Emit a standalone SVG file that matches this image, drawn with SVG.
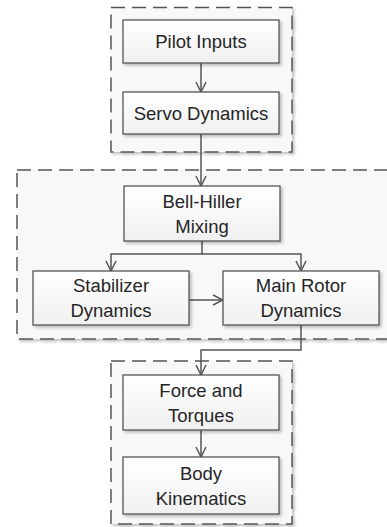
<svg xmlns="http://www.w3.org/2000/svg" width="387" height="527" viewBox="0 0 387 527">
<defs>
<linearGradient id="g" x1="0" y1="0" x2="0" y2="1"><stop offset="0" stop-color="#ffffff"/><stop offset="1" stop-color="#f0f0f0"/></linearGradient>
<filter id="sh" x="-10%" y="-10%" width="130%" height="130%"><feGaussianBlur in="SourceAlpha" stdDeviation="1.5"/><feOffset dx="2" dy="2"/><feComponentTransfer><feFuncA type="linear" slope="0.25"/></feComponentTransfer><feMerge><feMergeNode/><feMergeNode in="SourceGraphic"/></feMerge></filter>
<marker id="ah" viewBox="0 0 12 12" refX="11" refY="6" markerWidth="12" markerHeight="12" markerUnits="userSpaceOnUse" orient="auto"><path d="M1,1 L11,6 L1,11" fill="none" stroke="#555" stroke-width="1.5"/></marker>
</defs>
<style>
.grp{fill:#f8f8f8;stroke:#555;stroke-width:1.5;stroke-dasharray:14 7}
.box{fill:url(#g);stroke:#555;stroke-width:1.3}
.t{font-family:"Liberation Sans",Arial,sans-serif;font-size:18.5px;fill:#262626;text-anchor:middle}
.c{fill:none;stroke:#555;stroke-width:1.5}
</style>
<g id="groups">
<rect class="grp" x="111" y="7.5" width="181" height="144.5" filter="url(#sh)"/>
<rect class="grp" x="17" y="170" width="375" height="169" filter="url(#sh)"/>
<rect class="grp" x="111" y="361" width="181" height="163" filter="url(#sh)"/>
</g>
<g id="connectors">
<path class="c" d="M201,63 V92" marker-end="url(#ah)"/>
<path class="c" d="M201,134 V186" marker-end="url(#ah)"/>
<path class="c" d="M202,241 V254 H111 V271" marker-end="url(#ah)"/>
<path class="c" d="M202,254 H301 V271" marker-end="url(#ah)"/>
<path class="c" d="M189,300 H223" marker-end="url(#ah)"/>
<path class="c" d="M301,325 V350 H201 V375" marker-end="url(#ah)"/>
<path class="c" d="M201,430 V457" marker-end="url(#ah)"/>
</g>
<g id="pilot"><rect class="box" x="123" y="20" width="156" height="43" filter="url(#sh)"/><text class="t" x="201" y="48">Pilot Inputs</text></g>
<g id="servo"><rect class="box" x="123" y="92" width="156" height="42" filter="url(#sh)"/><text class="t" x="201" y="119.5">Servo Dynamics</text></g>
<g id="bellhiller"><rect class="box" x="124" y="186" width="156" height="55" filter="url(#sh)"/><text class="t" x="202" y="207.5">Bell-Hiller</text><text class="t" x="202" y="232.5">Mixing</text></g>
<g id="stabilizer"><rect class="box" x="33" y="271" width="156" height="54" filter="url(#sh)"/><text class="t" x="111" y="292">Stabilizer</text><text class="t" x="111" y="317">Dynamics</text></g>
<g id="mainrotor"><rect class="box" x="223" y="271" width="156" height="54" filter="url(#sh)"/><text class="t" x="301" y="292">Main Rotor</text><text class="t" x="301" y="317">Dynamics</text></g>
<g id="force"><rect class="box" x="123" y="375" width="156" height="55" filter="url(#sh)"/><text class="t" x="201" y="396.5">Force and</text><text class="t" x="201" y="421.5">Torques</text></g>
<g id="body"><rect class="box" x="123" y="457" width="156" height="57" filter="url(#sh)"/><text class="t" x="201" y="479.5">Body</text><text class="t" x="201" y="504.5">Kinematics</text></g>
</svg>
